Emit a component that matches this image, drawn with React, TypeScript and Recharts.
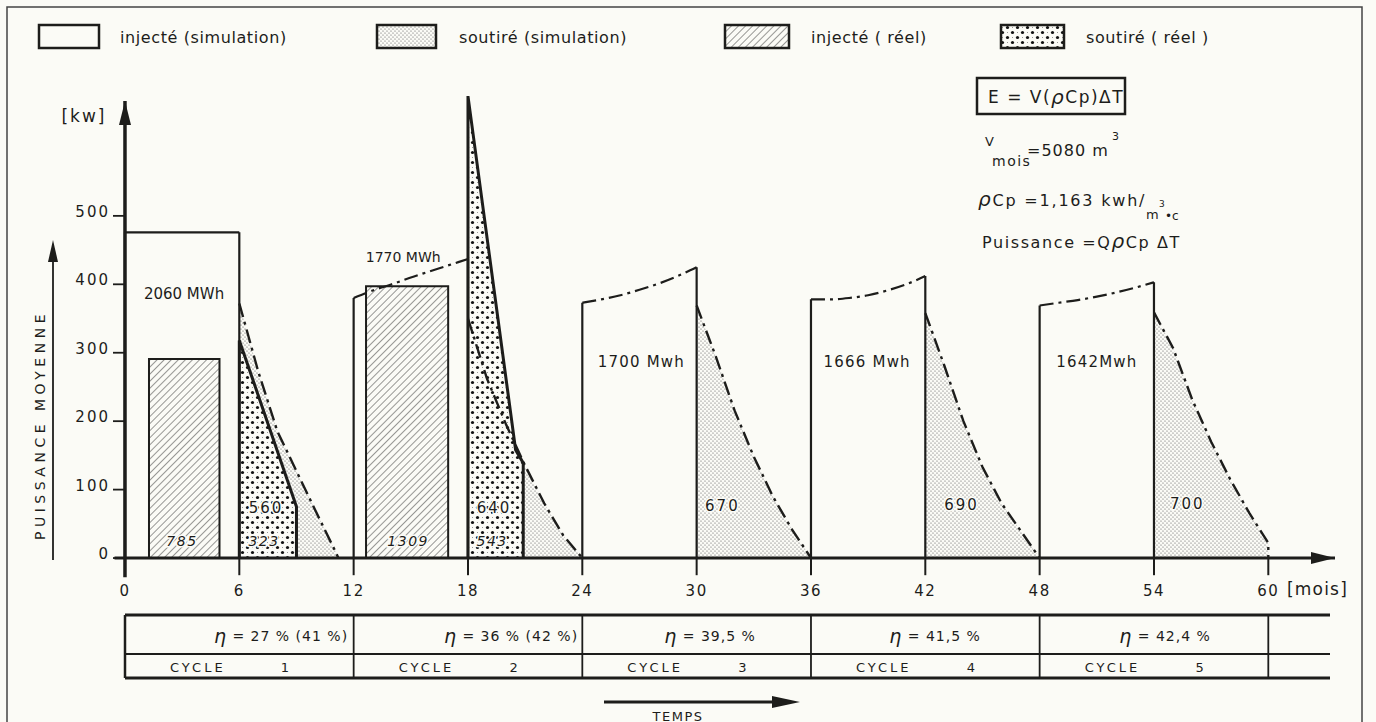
import React from "react";
import { ComposedChart, Line, Area, XAxis, YAxis, ReferenceArea, ReferenceDot } from "recharts";

const INK = "#1d1d1b";
const PAPER = "#fbfbf6";
const FONT = "'DejaVu Sans', sans-serif";

// axes
const monthTicks = [0, 6, 12, 18, 24, 30, 36, 42, 48, 54, 60];
const kwTicks = [0, 100, 200, 300, 400, 500];

// début de chaque cycle (mois)
const cycleStart = [0, 12, 24, 36, 48];

// injecté (simulation), kW au début de chaque mois de la phase d'injection
const injectSim = [
  [476, 476, 476, 476, 476, 476, 476],
  [380, 391, 400, 410, 419, 428, 437],
  [373, 378, 384, 392, 401, 412, 425],
  [378, 378, 380, 384, 391, 400, 412],
  [369, 373, 377, 382, 388, 395, 403],
];

// soutiré (simulation), [mois, kW]
const withdrawSim = [
  [[6, 372], [7, 272], [8, 185], [9, 127], [10, 69], [11, 12], [11.2, 0]],
  [[18, 350], [19, 262], [20, 195], [21, 135], [22, 80], [23, 33], [24, 0]],
  [[30, 369], [31, 295], [32, 215], [33, 148], [34, 90], [35, 42], [36, 0]],
  [[42, 358], [43, 281], [44, 200], [45, 133], [46, 80], [47, 40], [48, 0]],
  [[54, 359], [55, 307], [56, 232], [57, 170], [58, 115], [59, 66], [60, 22], [60, 0]],
];

// soutiré (réel), [mois, kW]
const withdrawReal = [
  [[6, 0], [6, 318], [9, 75], [9, 0]],
  [[18, 0], [18, 675], [20.5, 158], [20.9, 139], [20.9, 0]],
];

// injecté (réel)
const injectRealFrom = [1.26, 12.65];
const injectRealTo = [4.96, 16.96];
const injectRealKw = [291, 397];

// énergies (MWh)
const energySim = ["2060 MWh", "1770 MWh", "1700 Mwh", "1666 Mwh", "1642Mwh"];
const withdrawSimMwh = ["560", "640", "670", "690", "700"];
const injectRealMwh = ["785", "1309"];
const withdrawRealMwh = ["323", "543"];

// tableau
const efficiency = ["27 % (41 %)", "36 % (42 %)", "39,5 %", "41,5 %", "42,4 %"];
const cycleNames = ["1", "2", "3", "4", "5"];

const ptsOf = (pairs: number[][]) => pairs.map(([m, kw]) => ({ m, kw }));

const X0 = 125;
const PX = 19.055;

// the axis domains start slightly below 0 so the axis lines can overshoot,
// tick marks are drawn back at the value 0 position
const MonthTick = (p: any) => (
  <g>
    <line x1={p.x} x2={p.x} y1={p.y - 19} y2={p.y - 2} stroke={INK} strokeWidth={2} />
    <text x={p.x} y={p.y + 19} textAnchor="middle" fontSize={15} letterSpacing={1.5} fill={INK} fontFamily={FONT}>
      {p.payload.value}
    </text>
  </g>
);

const KwTick = (p: any) => (
  <g>
    <line x1={p.x - 1.5} x2={p.x + 10.5} y1={p.y} y2={p.y} stroke={INK} strokeWidth={1.8} />
    <text x={p.x - 4.5} y={p.y + 1} textAnchor="end" fontSize={15} letterSpacing={2} fill={INK} fontFamily={FONT}>
      {p.payload.value}
    </text>
  </g>
);

const arrowDot = (dir: string) => (p: any) => {
  const { cx, cy, index } = p;
  if (index !== 1) return <g key={`d${index}`} />;
  const pts =
    dir === "right"
      ? `${cx},${cy} ${cx - 24},${cy - 6} ${cx - 24},${cy + 6}`
      : `${cx},${cy} ${cx - 6},${cy + 24} ${cx + 6},${cy + 24}`;
  return <polygon key={`d${index}`} points={pts} fill={INK} />;
};

const textDot = (key: string, m: number, kw: number, text: string, extra: any = {}) => (
  <ReferenceDot
    key={key}
    x={m}
    y={kw}
    r={0}
    ifOverflow="visible"
    shape={(p: any) => (
      <text
        x={p.cx}
        y={p.cy}
        textAnchor="middle"
        dominantBaseline="central"
        fontFamily={FONT}
        fill={INK}
        fontSize={15}
        stroke={PAPER}
        strokeWidth={3}
        paintOrder="stroke"
        {...extra}
      >
        {text}
      </text>
    )}
  />
);

export default function App() {
  const dashDot = "14 5 3 5";
  const topDashed = [false, true, true, true, true];
  const energyAt = [[3.1, 386], [14.6, 440], [27.1, 287], [38.95, 287], [51.0, 287]];
  const withdrawSimAt = [[7.4, 73], [19.37, 73], [31.35, 76], [43.9, 77], [55.75, 79]];
  const injectRealAt = [[2.99, 25], [14.86, 25]];
  const withdrawRealAt = [[7.3, 25], [19.27, 25]];
  const effCenter = [281, 511, 710, 935, 1165];

  const cellEdges = [0, 12, 24, 36, 48, 60].map((m) => X0 + m * PX);

  return (
    <div style={{ position: "absolute", left: 0, top: 0, width: 1376, height: 722, background: PAPER, overflow: "hidden" }}>
      <svg width={0} height={0} style={{ position: "absolute" }}>
        <defs>
          <pattern id="finedots" width={4} height={4} patternUnits="userSpaceOnUse">
            <rect width={4} height={4} fill={PAPER} />
            <circle cx={1} cy={1} r={0.6} fill="#555" />
            <circle cx={3} cy={3} r={0.6} fill="#555" />
          </pattern>
          <pattern id="coarsedots" width={10} height={10} patternUnits="userSpaceOnUse">
            <rect width={10} height={10} fill={PAPER} />
            <circle cx={2.5} cy={2.5} r={1.6} fill="#111" />
            <circle cx={7.5} cy={7.5} r={1.6} fill="#111" />
            <circle cx={7.5} cy={2.5} r={0.5} fill="#777" />
            <circle cx={2.5} cy={7.5} r={0.5} fill="#777" />
          </pattern>
          <pattern id="hatch" width={5} height={5} patternUnits="userSpaceOnUse" patternTransform="rotate(45)">
            <rect width={5} height={5} fill={PAPER} />
            <line x1={0} y1={0} x2={0} y2={5} stroke="#333" strokeWidth={1} />
          </pattern>
        </defs>
      </svg>

      <div style={{ position: "absolute", left: 0, top: 0 }}>
        <ComposedChart width={1376} height={722} margin={{ top: 79, right: 41, bottom: 104.8, left: 54.5 }}>
          <XAxis
            type="number"
            dataKey="m"
            domain={[-0.55, 63.5]}
            ticks={monthTicks}
            interval={0}
            axisLine={false}
            tickLine={false}
            tickSize={0}
            tickMargin={0}
            height={40}
            tick={(p: any) => <MonthTick {...p} />}
          />
          <YAxis
            type="number"
            dataKey="kw"
            domain={[-28, 700]}
            ticks={kwTicks}
            interval={0}
            axisLine={false}
            tickLine={false}
            tickSize={0}
            tickMargin={0}
            width={60}
            tick={(p: any) => <KwTick {...p} />}
          />

          {withdrawSim.map((c, i) => (
            <Area
              key={`wsa${i}`}
              data={ptsOf(c)}
              dataKey="kw"
              type="linear"
              baseValue={0}
              fill="url(#finedots)"
              fillOpacity={1}
              stroke="none"
              dot={false}
              activeDot={false}
              isAnimationActive={false}
            />
          ))}

          {injectRealKw.map((kw, i) => (
            <ReferenceArea
              key={`ir${i}`}
              x1={injectRealFrom[i]}
              x2={injectRealTo[i]}
              y1={0}
              y2={kw}
              fill="url(#hatch)"
              fillOpacity={1}
              stroke={INK}
              strokeWidth={2}
            />
          ))}

          {withdrawReal.map((c, i) => (
            <Area
              key={`wr${i}`}
              data={ptsOf(c)}
              dataKey="kw"
              type="linear"
              baseValue={0}
              fill="url(#coarsedots)"
              fillOpacity={1}
              stroke={INK}
              strokeWidth={3}
              dot={false}
              activeDot={false}
              isAnimationActive={false}
            />
          ))}

          {withdrawSim.map((c, i) => (
            <Line
              key={`wsl${i}`}
              data={ptsOf(c)}
              dataKey="kw"
              type="linear"
              stroke={INK}
              strokeWidth={2.4}
              strokeDasharray={dashDot}
              dot={false}
              activeDot={false}
              isAnimationActive={false}
            />
          ))}

          {injectSim.map((vals, i) => {
            const s = cycleStart[i];
            const top = vals.map((kw, k) => ({ m: s + k, kw }));
            return [
              <Line
                key={`isl${i}`}
                data={[{ m: s, kw: 0 }, top[0]]}
                dataKey="kw"
                type="linear"
                stroke={INK}
                strokeWidth={2.2}
                dot={false}
                activeDot={false}
                isAnimationActive={false}
              />,
              <Line
                key={`ist${i}`}
                data={top}
                dataKey="kw"
                type="monotone"
                stroke={INK}
                strokeWidth={2.2}
                strokeDasharray={topDashed[i] ? dashDot : undefined}
                dot={false}
                activeDot={false}
                isAnimationActive={false}
              />,
              <Line
                key={`isr${i}`}
                data={[top[top.length - 1], { m: s + 6, kw: 0 }]}
                dataKey="kw"
                type="linear"
                stroke={INK}
                strokeWidth={2.2}
                dot={false}
                activeDot={false}
                isAnimationActive={false}
              />,
            ];
          })}

          <Line
            data={[{ m: -0.55, kw: 0 }, { m: 63.5, kw: 0 }]}
            dataKey="kw"
            type="linear"
            stroke={INK}
            strokeWidth={3}
            dot={arrowDot("right")}
            activeDot={false}
            isAnimationActive={false}
          />
          <Line
            data={[{ m: 0, kw: -28 }, { m: 0, kw: 668 }]}
            dataKey="kw"
            type="linear"
            stroke={INK}
            strokeWidth={3.5}
            dot={arrowDot("up")}
            activeDot={false}
            isAnimationActive={false}
          />

          {energySim.map((t, i) =>
            textDot(`es${i}`, energyAt[i][0], energyAt[i][1], t, { letterSpacing: i > 1 ? 1.2 : 0, fontSize: i === 1 ? 14 : 15 })
          )}
          {withdrawSimMwh.map((t, i) =>
            textDot(`wsm${i}`, withdrawSimAt[i][0], withdrawSimAt[i][1], t, { letterSpacing: 2, fontSize: 15 })
          )}
          {injectRealMwh.map((t, i) =>
            textDot(`irm${i}`, injectRealAt[i][0], injectRealAt[i][1], t, { letterSpacing: 1.5, fontSize: 14, fontStyle: "italic" })
          )}
          {withdrawRealMwh.map((t, i) =>
            textDot(`wrm${i}`, withdrawRealAt[i][0], withdrawRealAt[i][1], t, { letterSpacing: 1.5, fontSize: 14, fontStyle: "italic" })
          )}
        </ComposedChart>
      </div>

      <svg width={1376} height={722} style={{ position: "absolute", left: 0, top: 0, pointerEvents: "none" }} fontFamily={FONT} fill={INK}>
        <rect x={7} y={7} width={1355} height={730} fill="none" stroke="#444" strokeWidth={1.5} />

        {/* légende */}
        <rect x={39} y={25} width={60} height={23} fill="none" stroke={INK} strokeWidth={2.5} />
        <text x={120} y={37} dominantBaseline="central" fontSize={16} letterSpacing={0.6}>injecté (simulation)</text>
        <rect x={377} y={25} width={59} height={23} fill="url(#finedots)" stroke={INK} strokeWidth={2.5} />
        <text x={459} y={37} dominantBaseline="central" fontSize={16} letterSpacing={0.6}>soutiré (simulation)</text>
        <rect x={725} y={25} width={64} height={23} fill="url(#hatch)" stroke={INK} strokeWidth={2.5} />
        <text x={811} y={37} dominantBaseline="central" fontSize={16} letterSpacing={0.6}>injecté ( réel)</text>
        <rect x={1001} y={25} width={63} height={23} fill="url(#coarsedots)" stroke={INK} strokeWidth={2.5} />
        <text x={1086} y={37} dominantBaseline="central" fontSize={16} letterSpacing={0.6}>soutiré ( réel )</text>

        {/* formules */}
        <rect x={977} y={78} width={148} height={36} fill="none" stroke={INK} strokeWidth={2.5} />
        <text x={988} y={97} dominantBaseline="central" fontSize={17} letterSpacing={1.5}>
          E = V(<tspan fontStyle="italic" fontSize={20}>ρ</tspan>Cp)ΔT
        </text>
        <text x={985} y={146} fontSize={13}>V</text>
        <text x={992} y={166} fontSize={14} letterSpacing={1.5}>mois</text>
        <text x={1027} y={156} fontSize={16} letterSpacing={1}>=5080 m</text>
        <text x={1112} y={140} fontSize={11}>3</text>
        <text x={978} y={206} fontSize={16} letterSpacing={1.8}>
          <tspan fontStyle="italic" fontSize={20}>ρ</tspan>Cp =1,163 kwh/
        </text>
        <text x={1146} y={219} fontSize={13}>m</text>
        <text x={1159} y={207} fontSize={9}>3</text>
        <text x={1165} y={220} fontSize={12}>•c</text>
        <text x={982} y={248} fontSize={16} letterSpacing={1.6}>
          Puissance =Q<tspan fontStyle="italic" fontSize={20}>ρ</tspan>Cp ΔT
        </text>

        {/* titres d'axes */}
        <text x={84} y={116} textAnchor="middle" dominantBaseline="central" fontSize={17} letterSpacing={2}>[kw]</text>
        <text x={1287} y={595} fontSize={17} letterSpacing={1.2}>[mois]</text>
        <text
          x={40}
          y={425}
          transform="rotate(-90 40 425)"
          textAnchor="middle"
          dominantBaseline="central"
          fontSize={14}
          letterSpacing={4.5}
        >
          PUISSANCE MOYENNE
        </text>
        <line x1={53} x2={53} y1={560} y2={258} stroke={INK} strokeWidth={1.8} />
        <polygon points="53,240 48,262 58,262" fill={INK} />

        {/* tableau des cycles */}
        <line x1={cellEdges[0]} x2={1330} y1={615} y2={615} stroke={INK} strokeWidth={2.8} />
        <line x1={cellEdges[0]} x2={1330} y1={654} y2={654} stroke={INK} strokeWidth={2} />
        <line x1={cellEdges[0]} x2={1330} y1={678} y2={678} stroke={INK} strokeWidth={2.8} />
        {cellEdges.map((x, i) => (
          <line key={`ce${i}`} x1={x} x2={x} y1={615} y2={678} stroke={INK} strokeWidth={i === 0 ? 2.5 : 1.8} />
        ))}
        {efficiency.map((t, i) => (
          <text key={`ef${i}`} x={effCenter[i]} y={636} textAnchor="middle" dominantBaseline="central" fontSize={14} letterSpacing={1}>
            <tspan fontStyle="italic" fontSize={19}>η</tspan> = {t}
          </text>
        ))}
        {cycleNames.map((n, i) => (
          <g key={`cy${i}`}>
            <text x={cellEdges[i] + 45} y={667} dominantBaseline="central" fontSize={13} letterSpacing={3}>CYCLE</text>
            <text x={cellEdges[i] + 160} y={667} textAnchor="middle" dominantBaseline="central" fontSize={13}>{n}</text>
          </g>
        ))}

        {/* temps */}
        <line x1={604} x2={780} y1={702} y2={702} stroke={INK} strokeWidth={3} />
        <polygon points="800,702 772,696 772,708" fill={INK} />
        <text x={678} y={716} textAnchor="middle" dominantBaseline="central" fontSize={13} letterSpacing={1.5}>TEMPS</text>
      </svg>
    </div>
  );
}
